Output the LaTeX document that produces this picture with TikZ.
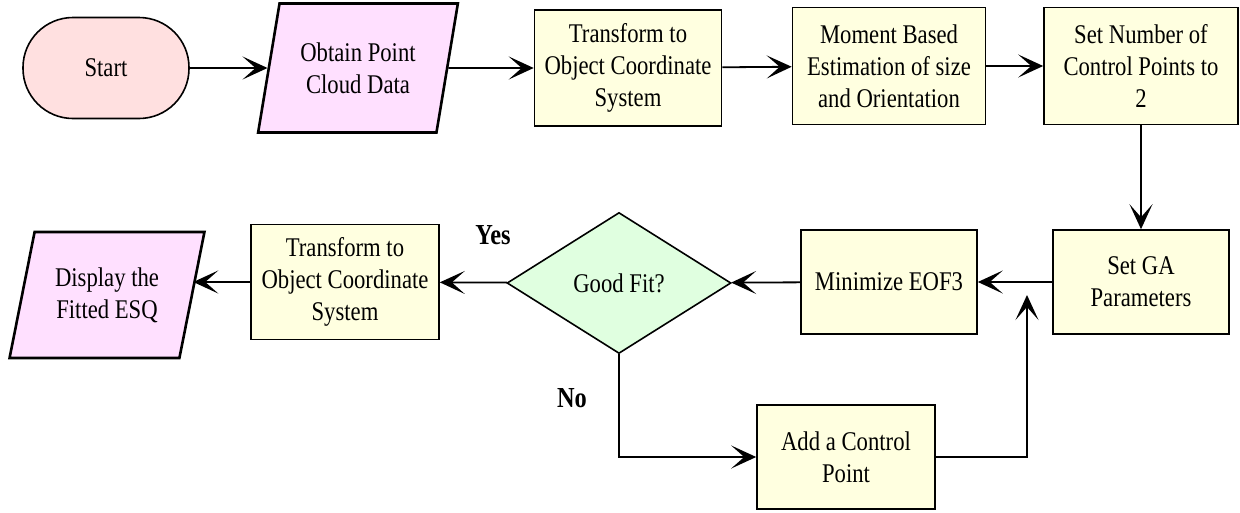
\documentclass[tikz,border=0pt]{standalone}
\usepackage{fontspec}
\setmainfont{Liberation Serif}[FakeStretch=0.84]
\usetikzlibrary{shapes.geometric,arrows.meta}

\definecolor{startfill}{HTML}{FFE0E0}
\definecolor{iofill}{HTML}{FFE0FF}
\definecolor{procfill}{HTML}{FFFFE0}
\definecolor{testfill}{HTML}{E0FFE0}

\tikzset{
  proc/.style={draw, line width=1.6pt, fill=procfill, align=center, inner sep=2pt},
  io/.style={trapezium, trapezium stretches=true, draw, line width=2.6pt,
    fill=iofill, align=center, inner sep=2pt},
  arr/.style={-{Stealth[length=25pt,width=23pt,inset=13pt]}, line width=1.8pt},
  answer/.style={font=\fontsize{29}{32}\selectfont\bfseries},
}

\begin{document}
\begin{tikzpicture}[x=1pt, y=-1pt, font=\fontsize{27}{32}\selectfont]
      \useasboundingbox (0,0) rectangle (1240,512);
      % top row
      \node[draw, line width=1.6pt, fill=startfill, rounded corners=50pt,
        minimum width=166pt, minimum height=101pt] (start) at (106,68) {Start};
      \node[io, trapezium left angle=73.5, trapezium right angle=106.5,
        minimum width=200pt, minimum height=129pt] (obtain) at (358,68) {Obtain Point\\Cloud Data};
      \node[proc, minimum width=187pt, minimum height=116pt] (trans1) at (628,68) {Transform to\\Object Coordinate\\System};
      \node[proc, minimum width=193pt, minimum height=117pt] (moment) at (889,66) {Moment Based\\Estimation of size\\and Orientation};
      \node[proc, minimum width=194pt, minimum height=117pt] (setnum) at (1141,66) {Set Number of\\Control Points to\\2};
      % middle row
      \node[proc, minimum width=176pt, minimum height=104pt] (setga) at (1141,282) {Set GA\\Parameters};
      \node[proc, minimum width=176pt, minimum height=104pt] (minim) at (889,282) {Minimize EOF3};
      \node[diamond, aspect=1.59, draw, line width=1.6pt, fill=testfill, inner sep=1pt,
        minimum width=224pt, minimum height=141pt] (fit) at (619,283) {Good Fit?};
      \node[proc, minimum width=188pt, minimum height=115pt] (trans2) at (345,282) {Transform to\\Object Coordinate\\System};
      \node[io, trapezium left angle=72.5, trapezium right angle=107.5,
        minimum width=195pt, minimum height=126pt] (display) at (107,295) {Display the\\Fitted ESQ};
      % bottom row
      \node[proc, minimum width=178pt, minimum height=104pt] (add) at (846,457) {Add a Control\\Point};
      \coordinate (join) at (1027,295);
      \node[answer] (yes) at (493,235) {Yes};
      \node[answer] (no) at (572,398) {No};
      % connectors
      \draw[arr] (start) -- (obtain);
      \draw[arr] (obtain) -- (trans1);
      \draw[arr] (trans1) -- (moment);
      \draw[arr] (moment) -- (setnum);
      \draw[arr] (setnum) -- (setga);
      \draw[arr] (setga) -- (minim);
      \draw[arr] (minim) -- (fit);
      \draw[arr] (fit) -- (trans2);
      \draw[arr] (trans2.west) -- (display.east |- trans2.west);
      \draw[arr] (fit.south) |- (add.west);
      \draw[arr] (add.east) -| (join);
    \end{tikzpicture}
\end{document}
